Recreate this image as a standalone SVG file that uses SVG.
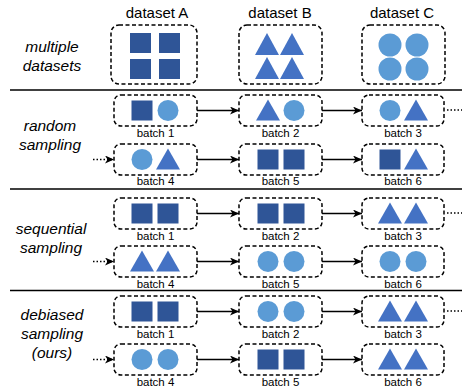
<svg xmlns="http://www.w3.org/2000/svg" width="462" height="392" viewBox="0 0 462 392">
<style>
.box{fill:none;stroke:#000;stroke-width:1.5;stroke-dasharray:4 2.5}
.sq{fill:#2F5597}
.tr{fill:#4472C4}
.ci{fill:#5B9BD5}
.hd{font-family:"Liberation Sans",Arial,sans-serif;font-size:15px;text-anchor:middle;fill:#000}
.lb{font-family:"Liberation Sans",Arial,sans-serif;font-size:15.5px;font-style:italic;text-anchor:middle;fill:#000}
.bt{font-family:"Liberation Sans",Arial,sans-serif;font-size:11.5px;text-anchor:middle;fill:#000}
.sep{stroke:#000;stroke-width:1.5}
.ar{stroke:#000;stroke-width:1.5;fill:none;marker-end:url(#ah)}
.dar{stroke:#000;stroke-width:1.5;fill:none;stroke-dasharray:1.5 2;marker-end:url(#ah)}
.dot{stroke:#000;stroke-width:1.5;fill:none;stroke-dasharray:1.5 2}
</style>
<defs>
<marker id="ah" markerUnits="userSpaceOnUse" markerWidth="10" markerHeight="8" refX="9" refY="4" orient="auto">
<path d="M0,0 L9,4 L0,8 L2.5,4 Z" fill="#000"/>
</marker>
<rect id="s" x="-10.5" y="-10" width="21" height="20" class="sq"/>
<polygon id="t" points="-12,10 0,-11 12,10" class="tr"/>
<circle id="c" r="10.5" class="ci"/>
</defs>

<g id="headers">
<text class="hd" x="157" y="18">dataset A</text>
<text class="hd" x="280" y="18">dataset B</text>
<text class="hd" x="402" y="18">dataset C</text>
</g>

<g id="row-labels">
<text class="lb" x="52" y="52">multiple</text>
<text class="lb" x="52" y="71">datasets</text>
<text class="lb" x="50" y="131">random</text>
<text class="lb" x="50" y="150">sampling</text>
<text class="lb" x="51" y="234">sequential</text>
<text class="lb" x="51" y="253">sampling</text>
<text class="lb" x="52" y="320">debiased</text>
<text class="lb" x="52" y="339">sampling</text>
<text class="lb" x="52" y="358">(ours)</text>
</g>

<g id="separators">
<line class="sep" x1="10" y1="90" x2="462" y2="90"/>
<line class="sep" x1="10" y1="189" x2="462" y2="189"/>
<line class="sep" x1="10" y1="290.5" x2="462" y2="290.5"/>
</g>

<g id="datasetA">
<rect class="box" x="111" y="25" width="86" height="59" rx="8"/>
<rect class="sq" x="130" y="33" width="21" height="20"/>
<rect class="sq" x="159" y="33" width="21" height="20"/>
<rect class="sq" x="130" y="59" width="21" height="20"/>
<rect class="sq" x="159" y="59" width="21" height="20"/>
</g>
<g id="datasetB">
<rect class="box" x="239" y="25" width="83" height="59" rx="8"/>
<polygon class="tr" points="255,55 267,33 279,55"/>
<polygon class="tr" points="280,55 292,33 304,55"/>
<polygon class="tr" points="255,79 267,57 279,79"/>
<polygon class="tr" points="280,79 292,57 304,79"/>
</g>
<g id="datasetC">
<rect class="box" x="362" y="25" width="83" height="59" rx="8"/>
<circle class="ci" cx="390" cy="45" r="11.5"/>
<circle class="ci" cx="417" cy="45" r="11.5"/>
<circle class="ci" cx="390" cy="69" r="11.5"/>
<circle class="ci" cx="417" cy="69" r="11.5"/>
</g>

<g id="connectors">
<line class="ar" x1="197" y1="110.5" x2="239" y2="110.5"/>
<line class="ar" x1="322" y1="110.5" x2="362" y2="110.5"/>
<line class="dot" x1="447" y1="110" x2="462" y2="110"/>
<line class="dar" x1="93" y1="159.5" x2="114" y2="159.5"/>
<line class="ar" x1="197" y1="159.5" x2="239" y2="159.5"/>
<line class="ar" x1="322" y1="159.5" x2="362" y2="159.5"/>

<line class="ar" x1="197" y1="213.5" x2="239" y2="213.5"/>
<line class="ar" x1="322" y1="213.5" x2="362" y2="213.5"/>
<line class="dot" x1="447" y1="213" x2="462" y2="213"/>
<line class="dar" x1="93" y1="261.5" x2="114" y2="261.5"/>
<line class="ar" x1="197" y1="261.5" x2="239" y2="261.5"/>
<line class="ar" x1="322" y1="261.5" x2="362" y2="261.5"/>

<line class="ar" x1="197" y1="311.5" x2="239" y2="311.5"/>
<line class="ar" x1="322" y1="311.5" x2="362" y2="311.5"/>
<line class="dot" x1="447" y1="311" x2="462" y2="311"/>
<line class="dar" x1="93" y1="359.5" x2="114" y2="359.5"/>
<line class="ar" x1="197" y1="359.5" x2="239" y2="359.5"/>
<line class="ar" x1="322" y1="359.5" x2="362" y2="359.5"/>
</g>

<!-- random sampling -->
<g id="r-b1">
<rect class="box" x="114" y="95" width="83" height="31" rx="7"/>
<use href="#s" x="142" y="110.5"/><use href="#c" x="168" y="110.5"/>
<text class="bt" x="155.5" y="137">batch 1</text>
</g>
<g id="r-b2">
<rect class="box" x="239" y="95" width="83" height="31" rx="7"/>
<use href="#t" x="268" y="110.5"/><use href="#c" x="294" y="110.5"/>
<text class="bt" x="280.5" y="137">batch 2</text>
</g>
<g id="r-b3">
<rect class="box" x="362" y="95" width="82" height="31" rx="7"/>
<use href="#c" x="390" y="110.5"/><use href="#t" x="416" y="110.5"/>
<text class="bt" x="403" y="137">batch 3</text>
</g>
<g id="r-b4">
<rect class="box" x="114" y="144" width="83" height="31" rx="7"/>
<use href="#c" x="142" y="159.5"/><use href="#t" x="168" y="159.5"/>
<text class="bt" x="155.5" y="185">batch 4</text>
</g>
<g id="r-b5">
<rect class="box" x="239" y="144" width="83" height="31" rx="7"/>
<use href="#s" x="268" y="159.5"/><use href="#s" x="294" y="159.5"/>
<text class="bt" x="280.5" y="185">batch 5</text>
</g>
<g id="r-b6">
<rect class="box" x="362" y="144" width="82" height="31" rx="7"/>
<use href="#s" x="390" y="159.5"/><use href="#t" x="416" y="159.5"/>
<text class="bt" x="403" y="185">batch 6</text>
</g>

<!-- sequential sampling -->
<g id="s-b1">
<rect class="box" x="114" y="198" width="83" height="31" rx="7"/>
<use href="#s" x="142" y="213.5"/><use href="#s" x="168" y="213.5"/>
<text class="bt" x="155.5" y="240">batch 1</text>
</g>
<g id="s-b2">
<rect class="box" x="239" y="198" width="83" height="31" rx="7"/>
<use href="#s" x="268" y="213.5"/><use href="#s" x="294" y="213.5"/>
<text class="bt" x="280.5" y="240">batch 2</text>
</g>
<g id="s-b3">
<rect class="box" x="362" y="198" width="82" height="31" rx="7"/>
<use href="#t" x="390" y="213.5"/><use href="#t" x="416" y="213.5"/>
<text class="bt" x="403" y="240">batch 3</text>
</g>
<g id="s-b4">
<rect class="box" x="114" y="246" width="83" height="31" rx="7"/>
<use href="#t" x="142" y="261.5"/><use href="#t" x="168" y="261.5"/>
<text class="bt" x="155.5" y="288">batch 4</text>
</g>
<g id="s-b5">
<rect class="box" x="239" y="246" width="83" height="31" rx="7"/>
<use href="#c" x="268" y="261.5"/><use href="#c" x="294" y="261.5"/>
<text class="bt" x="280.5" y="288">batch 5</text>
</g>
<g id="s-b6">
<rect class="box" x="362" y="246" width="82" height="31" rx="7"/>
<use href="#c" x="390" y="261.5"/><use href="#c" x="416" y="261.5"/>
<text class="bt" x="403" y="288">batch 6</text>
</g>

<!-- debiased sampling -->
<g id="d-b1">
<rect class="box" x="114" y="296" width="83" height="31" rx="7"/>
<use href="#s" x="142" y="311.5"/><use href="#s" x="168" y="311.5"/>
<text class="bt" x="155.5" y="338">batch 1</text>
</g>
<g id="d-b2">
<rect class="box" x="239" y="296" width="83" height="31" rx="7"/>
<use href="#c" x="268" y="311.5"/><use href="#c" x="294" y="311.5"/>
<text class="bt" x="280.5" y="338">batch 2</text>
</g>
<g id="d-b3">
<rect class="box" x="362" y="296" width="82" height="31" rx="7"/>
<use href="#t" x="390" y="311.5"/><use href="#t" x="416" y="311.5"/>
<text class="bt" x="403" y="338">batch 3</text>
</g>
<g id="d-b4">
<rect class="box" x="114" y="344" width="83" height="31" rx="7"/>
<use href="#c" x="142" y="359.5"/><use href="#c" x="168" y="359.5"/>
<text class="bt" x="155.5" y="386">batch 4</text>
</g>
<g id="d-b5">
<rect class="box" x="239" y="344" width="83" height="31" rx="7"/>
<use href="#s" x="268" y="359.5"/><use href="#s" x="294" y="359.5"/>
<text class="bt" x="280.5" y="386">batch 5</text>
</g>
<g id="d-b6">
<rect class="box" x="362" y="344" width="82" height="31" rx="7"/>
<use href="#t" x="390" y="359.5"/><use href="#t" x="416" y="359.5"/>
<text class="bt" x="403" y="386">batch 6</text>
</g>
</svg>
